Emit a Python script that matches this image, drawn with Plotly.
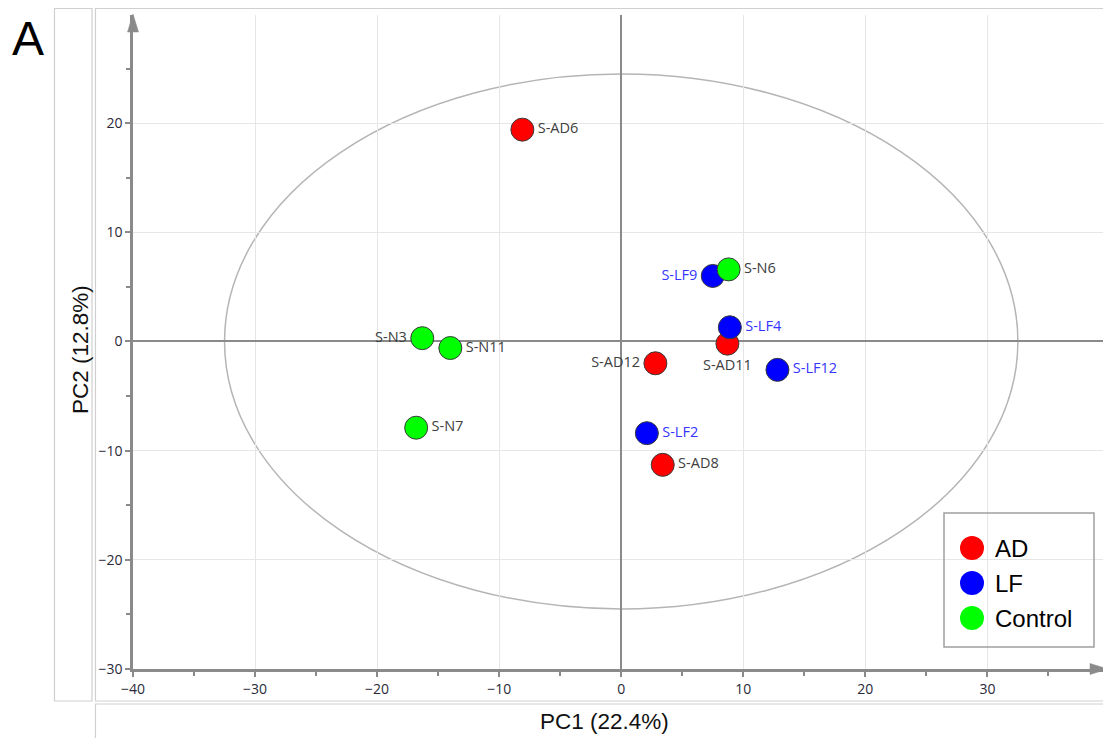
import plotly.graph_objects as go

# ---- data ----
groups = ["AD", "LF", "Control"]
group_colors = ["#ff0000", "#0000ff", "#00ff00"]
label_colors = ["#404040", "#3535ff", "#404040"]

ad_names = ["S-AD6", "S-AD11", "S-AD12", "S-AD8"]
ad_pc1 = [-8.1, 8.7, 2.8, 3.4]
ad_pc2 = [19.4, -0.2, -2.0, -11.3]
ad_pos = ["middle right", "bottom center", "middle left", "middle right"]

lf_names = ["S-LF9", "S-LF4", "S-LF12", "S-LF2"]
lf_pc1 = [7.5, 8.9, 12.8, 2.1]
lf_pc2 = [6.0, 1.3, -2.6, -8.4]
lf_pos = ["middle left", "middle right", "middle right", "middle right"]

ctl_names = ["S-N6", "S-N3", "S-N11", "S-N7"]
ctl_pc1 = [8.8, -16.3, -14.0, -16.8]
ctl_pc2 = [6.6, 0.3, -0.6, -7.9]
ctl_pos = ["middle right", "middle left", "middle right", "middle right"]

x_ticks = [-40, -30, -20, -10, 0, 10, 20, 30]
y_ticks = [-30, -20, -10, 0, 10, 20]
ellipse_rx = 32.5
ellipse_ry = 24.5

x_title = "PC1 (22.4%)"
y_title = "PC2 (12.8%)"
panel_label = "A"

# ---- layout geometry (page pixels; page body has an 8px margin) ----
OFF = 8
PAGE_W, PAGE_H = 1111, 738
W, H = PAGE_W - OFF, PAGE_H - OFF
L_PAGE, R_PAGE, T_PAGE, B_PAGE = 133, 1107, 15, 669
ML = L_PAGE - OFF
MT = T_PAGE - OFF
MR = W - (R_PAGE - OFF)
MB = H - (B_PAGE - OFF)
PW, PH = W - ML - MR, H - MT - MB


def px2x(px):
    return (px - OFF - ML) / PW


def py2y(py):
    return (H - MB - (py - OFF)) / PH


fig = go.Figure()

series = [
    (ad_names, ad_pc1, ad_pc2, ad_pos),
    (lf_names, lf_pc1, lf_pc2, lf_pos),
    (ctl_names, ctl_pc1, ctl_pc2, ctl_pos),
]
for i, (names, xs, ys, pos) in enumerate(series):
    fig.add_trace(go.Scatter(
        x=xs, y=ys, mode="markers+text", name=groups[i],
        text=names, textposition=pos,
        textfont=dict(family="Open Sans", size=14.5, color=label_colors[i]),
        marker=dict(size=23, color=group_colors[i], line=dict(color="#3a3a3a", width=1)),
        showlegend=False, cliponaxis=False,
    ))

shapes = []
# confidence ellipse
shapes.append(dict(type="circle", xref="x", yref="y",
                   x0=-ellipse_rx, x1=ellipse_rx, y0=-ellipse_ry, y1=ellipse_ry,
                   line=dict(color="#b5b5b5", width=1.5), layer="below"))
# panel boxes
box_line = dict(color="#cfcfcf", width=1.2)
shapes.append(dict(type="rect", xref="paper", yref="paper",
                   x0=px2x(54.5), x1=px2x(92), y0=py2y(701), y1=py2y(8.5), line=box_line))
shapes.append(dict(type="rect", xref="paper", yref="paper",
                   x0=px2x(95.5), x1=px2x(1109), y0=py2y(701), y1=py2y(8.5), line=box_line))
shapes.append(dict(type="rect", xref="paper", yref="paper",
                   x0=px2x(95.5), x1=px2x(1109), y0=py2y(760), y1=py2y(704), line=box_line))
# axis arrow heads
ax_col = "#8a8a8a"
shapes.append(dict(type="path", xref="paper", yref="paper",
                   path=f"M {px2x(1108)},{py2y(669)} L {px2x(1090)},{py2y(663.5)} L {px2x(1090)},{py2y(674.5)} Z",
                   fillcolor=ax_col, line=dict(color=ax_col, width=0.5)))
shapes.append(dict(type="path", xref="paper", yref="paper",
                   path=f"M {px2x(133)},{py2y(14)} L {px2x(127.5)},{py2y(32)} L {px2x(138.5)},{py2y(32)} Z",
                   fillcolor=ax_col, line=dict(color=ax_col, width=0.5)))

# manual legend
shapes.append(dict(type="rect", xref="paper", yref="paper",
                   x0=px2x(944), x1=px2x(1094), y0=py2y(647), y1=py2y(513),
                   line=dict(color="#a0a0a0", width=1.5)))
annotations = []
leg_y = [548, 583, 618]
for i, g in enumerate(groups):
    cy = leg_y[i]
    shapes.append(dict(type="circle", xref="paper", yref="paper",
                       x0=px2x(960), x1=px2x(984), y0=py2y(cy + 12), y1=py2y(cy - 12),
                       fillcolor=group_colors[i], line=dict(width=0)))
    annotations.append(dict(xref="paper", yref="paper", x=px2x(993), y=py2y(cy),
                            xanchor="left", yanchor="middle", text=g, showarrow=False,
                            font=dict(family="Liberation Sans", size=24, color="#000000")))

annotations.append(dict(xref="paper", yref="paper", x=px2x(604), y=py2y(721),
                        xanchor="center", yanchor="middle", text=x_title, showarrow=False,
                        font=dict(family="Liberation Sans", size=22.5, color="#111111")))
annotations.append(dict(xref="paper", yref="paper", x=px2x(80), y=py2y(350),
                        xanchor="center", yanchor="middle", text=y_title, showarrow=False,
                        textangle=-90,
                        font=dict(family="Liberation Sans", size=22.5, color="#111111")))
annotations.append(dict(xref="paper", yref="paper", x=px2x(28), y=py2y(38),
                        xanchor="center", yanchor="middle", text=panel_label, showarrow=False,
                        font=dict(family="Liberation Sans", size=48, color="#000000")))

axis_common = dict(
    showline=True, linecolor=ax_col, linewidth=2.5,
    showgrid=True, gridcolor="#e6e6e6", gridwidth=1,
    zeroline=True, zerolinecolor="#8a8a8a", zerolinewidth=1.5,
    ticks="outside", ticklen=5, tickwidth=1.5, tickcolor=ax_col,
    tickfont=dict(family="Open Sans", size=14, color="#2a2a3a"),
    minor=dict(ticks="outside", ticklen=4, tickwidth=1.5, tickcolor=ax_col, dtick=5, showgrid=False),
)

fig.update_layout(
    width=W, height=H,
    margin=dict(l=ML, r=MR, t=MT, b=MB, autoexpand=False),
    paper_bgcolor="white", plot_bgcolor="white",
    xaxis=dict(range=[-40, 39.8], tickvals=x_ticks, **axis_common),
    yaxis=dict(range=[-30, 29.9], tickvals=y_ticks, **axis_common),
    shapes=shapes, annotations=annotations, showlegend=False,
)

fig.write_html("out.html")
